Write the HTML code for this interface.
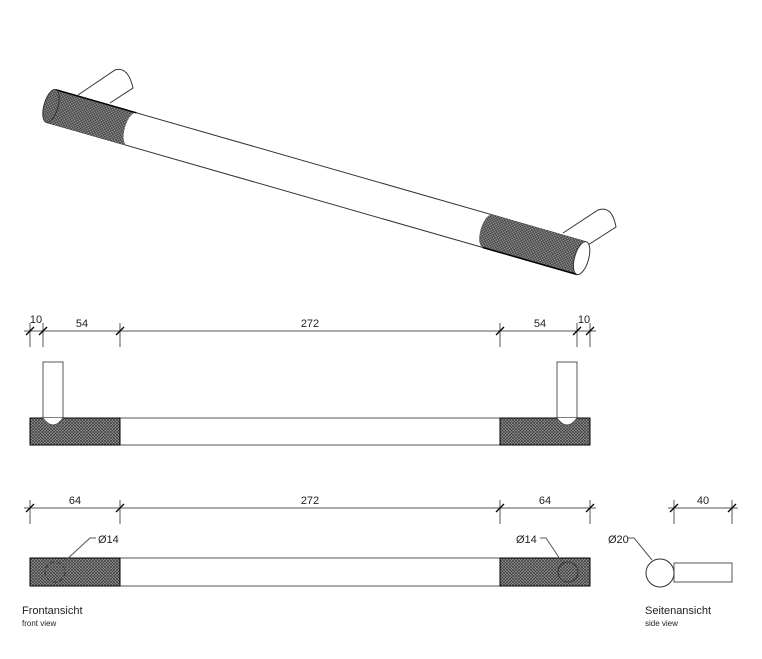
<!DOCTYPE html>
<html><head><meta charset="utf-8"><style>html,body{margin:0;padding:0;background:#fff}svg{display:block}text{font-family:"Liberation Sans",sans-serif;fill:#222}</style></head><body>
<svg width="762" height="659" viewBox="0 0 762 659" xmlns="http://www.w3.org/2000/svg">
<defs>
<pattern id="k" width="3" height="3" patternUnits="userSpaceOnUse">
<rect width="3" height="3" fill="#9a9a9a"/>
<path d="M0,0L3,3M3,0L0,3" stroke="#3a3a3a" stroke-width="0.7"/>
</pattern>
</defs>
<g stroke="#333" stroke-width="1" fill="none">
<path d="M78,95 L115,70 Q128,66 133,88 L110,103" fill="#fff"/>
<path d="M563,233 L598,210 Q612,205 616,227 L588,245" fill="#fff"/>
</g>
<g transform="translate(51,106) rotate(16)" stroke="#333" stroke-width="1">
<rect x="0" y="-17" width="552" height="34" fill="#fff" stroke="none"/>
<line x1="0" y1="-17" x2="552" y2="-17"/>
<line x1="0" y1="17" x2="552" y2="17"/>
<path d="M0,-17 L84,-17 A7,17 0 0 0 84,17 L0,17 Z" fill="url(#k)" stroke="none"/>
<path d="M454,-17 L552,-17 L552,17 L454,17 A7,17 0 0 1 454,-17 Z" fill="url(#k)" stroke="none"/>
<line x1="0" y1="-17" x2="84" y2="-17" stroke="#000" stroke-width="1.5"/>
<line x1="454" y1="17" x2="552" y2="17" stroke="#000" stroke-width="1.5"/>
<ellipse cx="0" cy="0" rx="7" ry="17" fill="url(#k)"/>
<ellipse cx="552" cy="0" rx="7" ry="17" fill="#fff"/>
</g>
<g stroke="#555" stroke-width="1" fill="none">
<line x1="24" y1="331" x2="596" y2="331"/>
<path d="M30,323V347M43,323V347M120,323V347M500,323V347M577,323V347M590,323V347"/>
<path stroke="#000" stroke-width="1.3" d="M26,335L34,327M39,335L47,327M116,335L124,327M496,335L504,327M573,335L581,327M586,335L594,327"/>
<path d="M43,418V362H63V418M557,418V362H577V418" fill="#fff"/>
<rect x="120" y="418" width="380" height="27" fill="#fff"/>
<rect x="30" y="418" width="90" height="27" fill="url(#k)" stroke="#000"/>
<rect x="500" y="418" width="90" height="27" fill="url(#k)" stroke="#000"/>
<path d="M43,418 Q53,432 63,418" fill="#fff"/>
<path d="M557,418 Q567,432 577,418" fill="#fff"/>
<line x1="24" y1="508" x2="596" y2="508"/>
<path d="M30,500V524M120,500V524M500,500V524M590,500V524"/>
<path stroke="#000" stroke-width="1.3" d="M26,512L34,504M116,512L124,504M496,512L504,504M586,512L594,504"/>
<line x1="668" y1="508" x2="738" y2="508"/>
<path d="M674,500V524M732,500V524"/>
<path stroke="#000" stroke-width="1.3" d="M670,512L678,504M728,512L736,504"/>
<rect x="120" y="558" width="380" height="28" fill="#fff"/>
<rect x="30" y="558" width="90" height="28" fill="url(#k)" stroke="#000"/>
<rect x="500" y="558" width="90" height="28" fill="url(#k)" stroke="#000"/>
<circle cx="55" cy="572" r="10" stroke="#333" stroke-dasharray="4,3"/>
<circle cx="568" cy="572" r="10" stroke="#333"/>
<path d="M65,561 L90,538 H96"/>
<path d="M562,562 L546,538 H540"/>
<rect x="674" y="563" width="58" height="19" fill="#fff"/>
<circle cx="660" cy="573" r="14" fill="#fff" stroke="#333"/>
<path d="M652,560 L634,538 H628"/>
</g>
<g font-size="11">
<text x="36" y="323" text-anchor="middle">10</text>
<text x="82" y="327" text-anchor="middle">54</text>
<text x="310" y="327" text-anchor="middle">272</text>
<text x="540" y="327" text-anchor="middle">54</text>
<text x="584" y="323" text-anchor="middle">10</text>
<text x="75" y="504" text-anchor="middle">64</text>
<text x="310" y="504" text-anchor="middle">272</text>
<text x="545" y="504" text-anchor="middle">64</text>
<text x="703" y="504" text-anchor="middle">40</text>
<text x="98" y="543">Ø14</text>
<text x="516" y="543">Ø14</text>
<text x="608" y="543">Ø20</text>
<text x="22" y="614">Frontansicht</text>
<text x="645" y="614">Seitenansicht</text>
</g>
<text x="22" y="626" font-size="8">front view</text>
<text x="645" y="626" font-size="8">side view</text>
</svg>
</body></html>
